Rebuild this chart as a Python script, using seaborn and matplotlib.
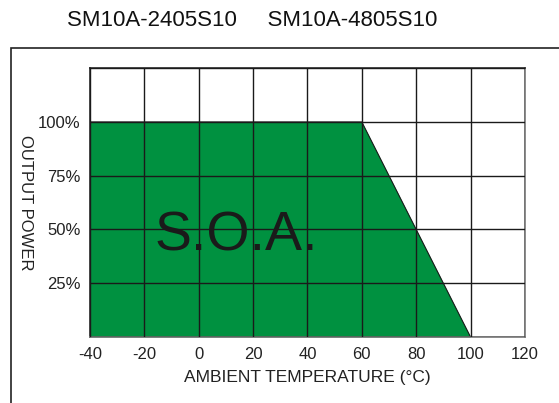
import matplotlib
matplotlib.use("Agg")
import matplotlib.pyplot as plt
import matplotlib.patches as patches
import pandas as pd
import seaborn as sns

# derating curve (safe operating area)
temps = [-40, 60, 100]
power = [100, 100, 0]

x_ticks = [-40, -20, 0, 20, 40, 60, 80, 100, 120]
y_ticks = [0, 25, 50, 75, 100, 125]
y_tick_labels = ["", "25%", "50%", "75%", "100%", ""]

title = "SM10A-2405S10     SM10A-4805S10"
green = "#009140"


def main():
    sns.set_style("white")
    plt.rcParams["font.family"] = ["Liberation Sans", "DejaVu Sans"]
    plt.rcParams["axes.unicode_minus"] = False

    df = pd.DataFrame({"temp": temps, "power": power})

    fig = plt.figure(figsize=(5.59, 4.03), dpi=100)
    ax = fig.add_axes([0.161, 0.1638, 0.778, 0.667])

    ax.fill_between(df["temp"], df["power"], 0, color=green, linewidth=0, zorder=0.5)
    sns.lineplot(data=df, x="temp", y="power", ax=ax, color="#1a1a1a", linewidth=0.8, zorder=1)

    ax.set_xlim(-40, 120)
    ax.set_ylim(0, 125)
    ax.set_xticks(x_ticks)
    ax.set_yticks(y_ticks)
    ax.set_yticklabels(y_tick_labels)
    ax.tick_params(axis="both", length=0, labelsize=12, colors="#222222")
    ax.tick_params(axis="x", pad=7)
    ax.tick_params(axis="y", pad=7)

    ax.set_axisbelow(False)
    ax.grid(True, color="#1a1a1a", linewidth=1.0, zorder=2)
    for side, spine in ax.spines.items():
        spine.set_visible(True)
        spine.set_linewidth(1.2)
        spine.set_color("#222222" if side in ("left", "top") else "#777777")

    ax.set_xlabel("AMBIENT TEMPERATURE (°C)", fontsize=12.5, color="#222222", labelpad=6)
    ax.set_ylabel("OUTPUT POWER", fontsize=12, color="#222222", rotation=270, labelpad=14)
    ax.yaxis.set_label_coords(-0.165, 0.5)

    ax.text(13.7, 40, "S.O.A.", fontsize=40, color="#1a1a1a", ha="center", va="baseline", zorder=3)

    fig.text(0.451, 0.95, title, fontsize=16, color="#111111", ha="center", va="center")

    # outer frame that runs off the right and bottom edges
    frame = patches.Rectangle((0.0197, -0.05), 1.1, 0.931, transform=fig.transFigure,
                              fill=False, edgecolor="#222222", linewidth=1.2, clip_on=False)
    fig.patches.append(frame)

    fig.savefig("out.png", dpi=100)


if __name__ == "__main__":
    main()
